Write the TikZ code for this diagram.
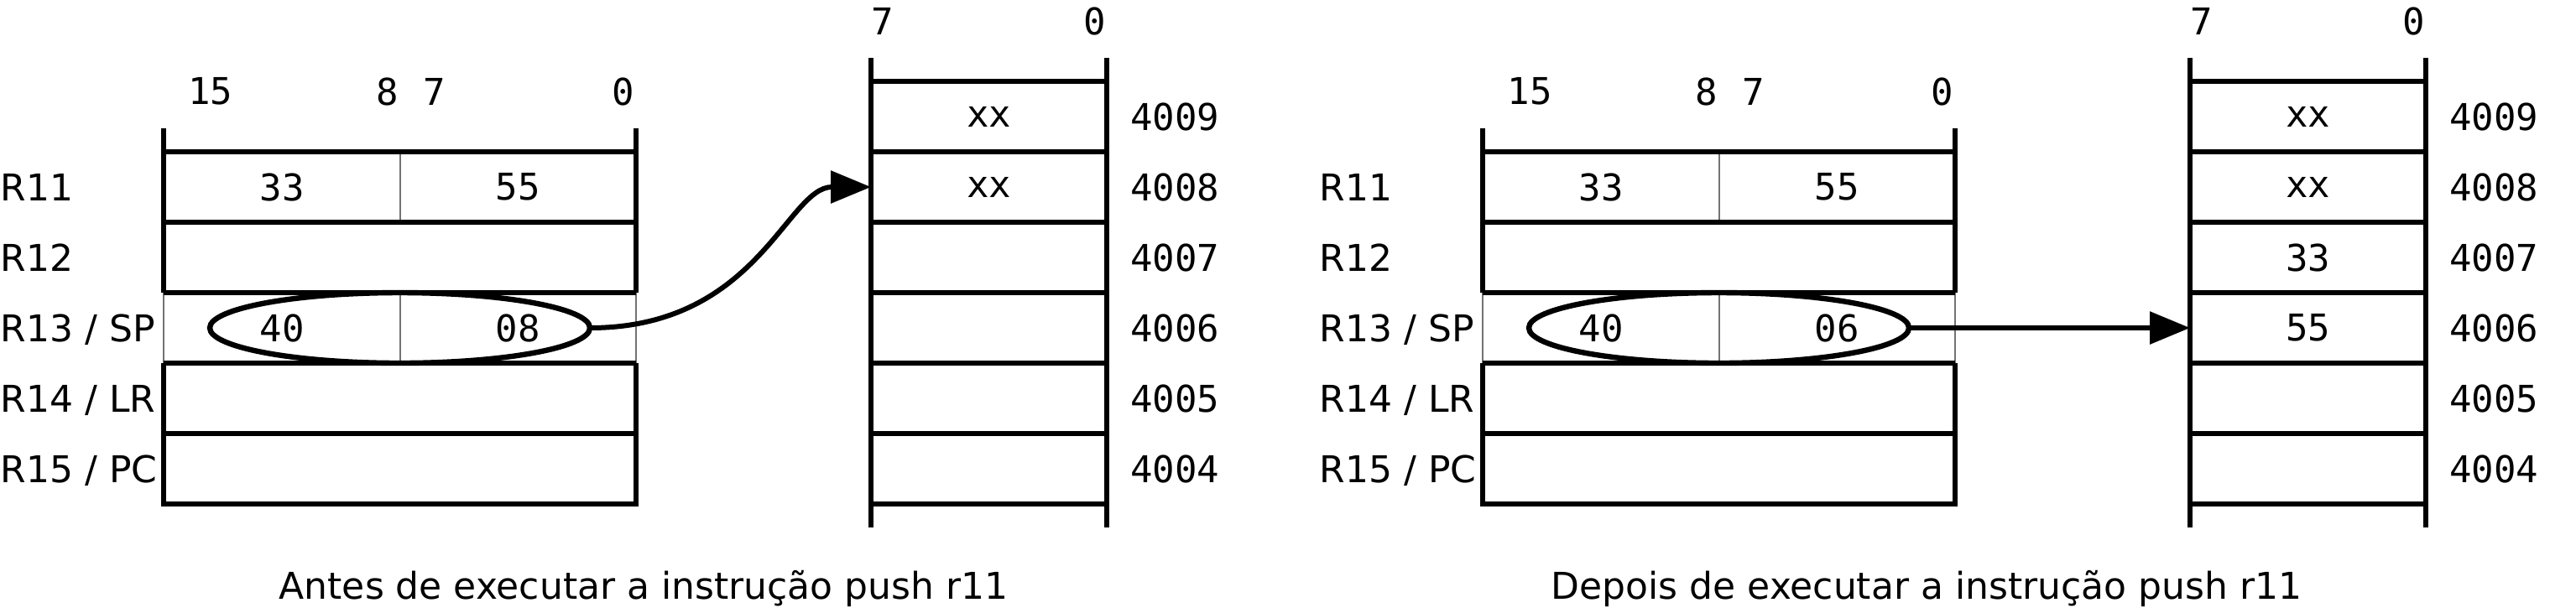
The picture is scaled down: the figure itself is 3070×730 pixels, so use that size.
\documentclass[tikz,border=0pt]{standalone}
\usepackage{fontspec}
\setmainfont{DejaVu Sans}
\setmonofont{DejaVu Sans Mono}
\usetikzlibrary{arrows.meta}
\usetikzlibrary{shapes.geometric}

\begin{document}
\begin{tikzpicture}[x=0.25pt,y=-0.25pt,font=\fontsize{11pt}{13pt}\selectfont,
  bar/.style={line width=1.6pt},
  fine/.style={line width=0.5pt,black!55},
  row/.style={draw=black!55,line width=0.5pt,inner sep=0pt,outer sep=0pt,minimum width=140.75pt,minimum height=21pt},
  cell/.style={row,minimum width=70.25pt,font=\fontsize{11pt}{13pt}\ttfamily},
  hex/.style={inner sep=0pt,font=\fontsize{11pt}{13pt}\ttfamily},
  regname/.style={anchor=west,inner sep=0pt,text depth=0pt},
  spmark/.style={draw,ellipse,line width=1.6pt,inner sep=0pt,outer sep=0pt,minimum width=113.25pt,minimum height=21pt},
  push/.style={line width=1.5pt,-{Triangle[length=12pt,width=9.5pt]}}]
  \useasboundingbox (0,0) rectangle (3070,730);
  \foreach \s/\dx/\lo/\ma/\mb/\cx/\cap in
    {A/0/08/{}/{}/767/Antes, B/1572/06/33/55/724/Depois}{
  \begin{scope}[xshift=\dx*0.25pt]
    % registers
    \foreach \r/\t/\y in {11/R11/223,12/R12/307,13/{R13 / SP}/391,14/{R14 / LR}/475,15/{R15 / PC}/559}{
      \node[row] (reg\s\r) at (476.5,\y) {};
      \node[regname] (nam\s\r) at (0,\y) {\t};
    }
    \draw[fine] (reg\s11.north) -- (reg\s11.south);
    \draw[fine] (reg\s13.north) -- (reg\s13.south);
    \node[hex] (hi\s11) at (336,223) {33};
    \node[hex] (lo\s11) at (617,223) {55};
    \node[hex] (hi\s13) at (336,391) {40};
    \node[hex] (lo\s13) at (617,391) {\lo};
    \node[spmark] (sp\s) at (476.5,391) {};
    \foreach \b/\x in {15/251,8/462,7/518,0/743}
      \node[hex] (bit\s\b) at (\x,109) {\b};
    \draw[bar] (195,153) -- (195,349) (758,153) -- (758,349);
    \draw[bar] (195,433) -- (195,601) -- (758,601) -- (758,433);
    \foreach \y in {181,265,...,517}
      \draw[bar] (195,\y) -- (758,\y);
    % memory
    \foreach \a/\y/\v in {4009/139/xx,4008/223/xx,4007/307/\ma,4006/391/\mb,4005/475/{},4004/559/{}}{
      \node[cell] (mem\s\a) at (1178.5,\y) {\v};
      \node[hex] (adr\s\a) at (1400,\y) {\a};
    }
    \foreach \b/\x in {7/1052,0/1305}
      \node[hex] (col\s\b) at (\x,25) {\b};
    \draw[bar] (1038,69) -- (1038,629) (1319,69) -- (1319,629);
    \foreach \y in {97,181,...,601}
      \draw[bar] (1038,\y) -- (1319,\y);
    \node[anchor=base] (cap\s) at (\cx,714) {\cap{} de executar a instrução push r11};
  \end{scope}
  }
  \draw[push] (spA.east) .. controls +(200,0) and +(-100,0) .. (memA4008.west);
  \draw[push] (spB.east) -- (memB4006.west);
\end{tikzpicture}
\end{document}
